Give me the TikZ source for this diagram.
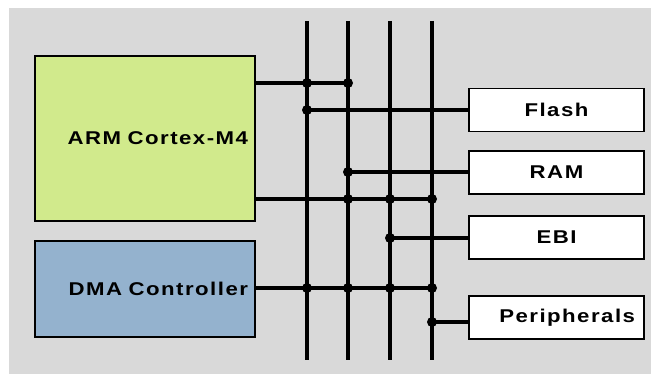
\documentclass[tikz,border=0pt]{standalone}
\usepackage{fontspec}
\setmainfont{Liberation Sans}[FakeStretch=1.2, LetterSpace=8]
\definecolor{bggray}{RGB}{217,217,217}
\definecolor{armgreen}{RGB}{209,234,140}
\definecolor{dmablue}{RGB}{148,178,206}
\newcommand{\wsp}{\hspace{6.5pt}}
\tikzset{
  box/.style={draw=black, line width=1.3pt, rectangle, inner sep=0pt, font=\fontsize{18.5}{20}\selectfont\bfseries},
  membox/.style={box, fill=white, minimum width=175pt, minimum height=43pt},
  bus/.style={line width=3.2pt, line cap=butt},
  wire/.style={line width=3.2pt},
  junc/.style={circle, fill=black, inner sep=0pt, minimum size=10pt}
}
\begin{document}
\begin{tikzpicture}[x=1pt, y=-1pt]
\useasboundingbox (0,0) rectangle (651,374);
\fill[bggray] (9,8) rectangle (651,374);

% processor blocks
\node[box, fill=armgreen, minimum width=220pt, minimum height=165pt, text width=206pt, align=right] (arm) at (145,138.5) {ARM\wsp Cortex-M4};
\node[box, fill=dmablue, minimum width=220pt, minimum height=96pt, text width=206pt, align=right] (dma) at (145,289) {DMA\wsp Controller};

% memory / peripheral blocks
\node[membox] (flash) at (556.5,110) {Flash};
\node[membox] (ram) at (556.5,172.5) {RAM};
\node[membox] (ebi) at (556.5,237.5) {EBI};
\node[membox, text width=157pt, align=right] (per) at (556.5,317.5) {Peripherals};

% bus lines
\foreach \i/\x in {1/307,2/348,3/390,4/432}{
  \coordinate (t\i) at (\x,21);
  \coordinate (b\i) at (\x,360);
  \draw[bus] (t\i) -- (b\i);
}

% junction points
\coordinate (a1) at (307,83);  \coordinate (a2) at (348,83);
\coordinate (f1) at (307,110);
\coordinate (r2) at (348,172);
\coordinate (c2) at (348,199); \coordinate (c3) at (390,199); \coordinate (c4) at (432,199);
\coordinate (e3) at (390,238);
\coordinate (d1) at (307,288); \coordinate (d2) at (348,288); \coordinate (d3) at (390,288); \coordinate (d4) at (432,288);
\coordinate (p4) at (432,322);

% wires
\draw[wire] (arm.east |- a2) -- (a2);
\draw[wire] (f1) -- (flash.west |- f1);
\draw[wire] (r2) -- (ram.west |- r2);
\draw[wire] (arm.east |- c4) -- (c4);
\draw[wire] (e3) -- (ebi.west |- e3);
\draw[wire] (dma.east |- d4) -- (d4);
\draw[wire] (p4) -- (per.west |- p4);

% dots
\foreach \j in {a1,a2,f1,r2,c2,c3,c4,e3,d1,d2,d3,d4,p4}{
  \node[junc] (dot-\j) at (\j) {};
}
\end{tikzpicture}
\end{document}
